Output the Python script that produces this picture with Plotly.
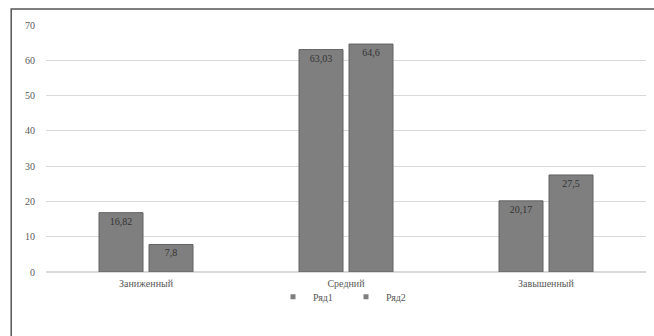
import plotly.graph_objects as go

categories = ["Заниженный", "Средний", "Завышенный"]
series1 = [16.82, 63.03, 20.17]
series2 = [7.8, 64.6, 27.5]
labels1 = ["16,82", "63,03", "20,17"]
labels2 = ["7,8", "64,6", "27,5"]
series_names = ["Ряд1", "Ряд2"]
y_ticks = [0, 10, 20, 30, 40, 50, 60, 70]

font_family = "Liberation Serif, Times New Roman, serif"
bar_color = "#7f7f7f"
line_color = "#626262"

fig = go.Figure()
for name, vals, labs in [(series_names[0], series1, labels1), (series_names[1], series2, labels2)]:
    fig.add_trace(go.Bar(
        name=name, x=categories, y=vals, text=labs,
        textposition="inside", insidetextanchor="end",
        textfont=dict(family=font_family, size=10, color="#333333"),
        marker=dict(color=bar_color, line=dict(color=line_color, width=1)),
        cliponaxis=False, showlegend=False,
    ))
# legend entries with small square markers
for name in series_names:
    fig.add_trace(go.Scatter(
        name=name, x=[None], y=[None], mode="markers",
        marker=dict(symbol="square", size=5, color=bar_color),
        showlegend=True,
    ))

fig.update_layout(
    width=654, height=336,
    margin=dict(l=46, r=8, t=25, b=64, autoexpand=False),
    paper_bgcolor="white", plot_bgcolor="white",
    barmode="group", bargap=0.5, bargroupgap=0.12,
    font=dict(family=font_family, size=10, color="#595959"),
    showlegend=True,
    legend=dict(orientation="h", x=0.5, xanchor="center", y=-0.1, yanchor="middle",
                font=dict(family=font_family, size=10, color="#595959"),
                bgcolor="rgba(0,0,0,0)",
                itemwidth=30, tracegroupgap=0, itemsizing="trace",
                entrywidth=28, entrywidthmode="pixels"),
    xaxis=dict(showgrid=False, showline=False, ticks="", tickfont=dict(size=10),
               ticklabelstandoff=4, automargin=False),
    yaxis=dict(range=[0, 70], tickvals=y_ticks, showgrid=True, gridcolor="#d9d9d9",
               gridwidth=1, zeroline=True, zerolinecolor="#d9d9d9", showline=False,
               ticks="", ticklabelstandoff=10, tickfont=dict(size=10), automargin=False),
    uniformtext=dict(minsize=8, mode="show"),
    shapes=[dict(type="rect", xref="paper", yref="paper",
                 x0=-0.058, x1=1.05, y0=-0.4, y1=1.065,
                 line=dict(color="#555555", width=1.5), fillcolor="rgba(0,0,0,0)")],
)

fig.write_html("out.html", config={"displayModeBar": False},
               post_script="document.body.style.margin='0';")
